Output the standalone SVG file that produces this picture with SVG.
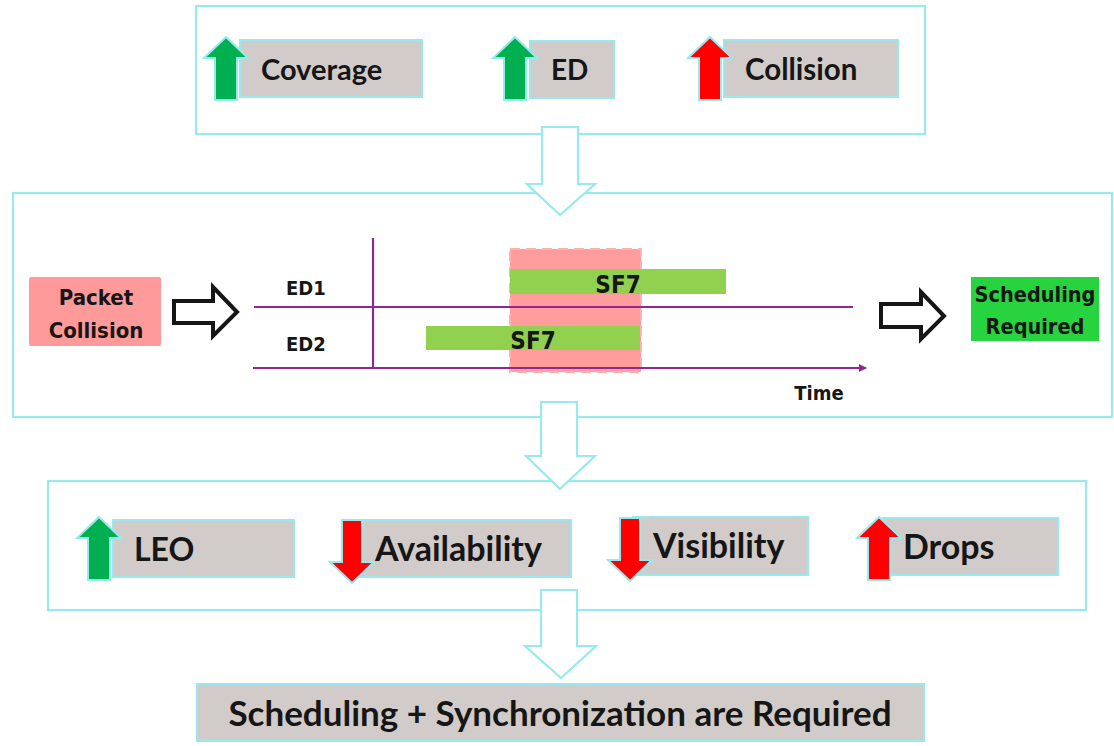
<svg xmlns="http://www.w3.org/2000/svg" width="1114" height="746" viewBox="0 0 1114 746">
<defs>
<style>
.frame{fill:#fff;stroke:#98e9ef;stroke-width:2.2}
.lbl{fill:#d1ccca;stroke:#98e9ef;stroke-width:2}
.t{font-family:Lato,"Open Sans",sans-serif;font-weight:bold;fill:#161616}
.c{font-family:"DejaVu Sans Condensed","DejaVu Sans",sans-serif;font-weight:bold;fill:#161616;font-stretch:condensed}
.up-g{fill:#00b050;stroke:#98e9ef;stroke-width:2}
.up-r{fill:#ff0000;stroke:#98e9ef;stroke-width:2}
.flow{fill:#fff;stroke:#98e9ef;stroke-width:2.2}
.blk{fill:#fff;stroke:#161616;stroke-width:4}
.pl{stroke:#92278f;stroke-width:2.2;fill:none}
.bar{fill:#92d050}
</style>
<marker id="ah" markerWidth="8" markerHeight="8" refX="7" refY="4" orient="auto" markerUnits="userSpaceOnUse" viewBox="0 0 8 8">
<path d="M0,0 L8,4 L0,8 z" fill="#92278f"/>
</marker>
<path id="upArrow" d="M0,0 L22,21 L11,21 L11,63 L-11,63 L-11,21 L-22,21 z"/>
<path id="downArrow" d="M0,0 L22,-21 L10,-21 L10,-63 L-10,-63 L-10,-21 L-22,-21 z"/>
</defs>

<!-- frames -->
<g id="frame-top"><rect class="frame" x="196" y="6" width="729" height="128"/></g>
<g id="frame-middle"><rect class="frame" x="13" y="193" width="1099" height="224"/></g>
<g id="frame-bottom"><rect class="frame" x="48" y="481" width="1038" height="129"/></g>

<!-- top row -->
<g id="coverage">
<rect class="lbl" x="240" y="40" width="182" height="57"/>
<use href="#upArrow" class="up-g" x="226" y="37"/>
<text class="t" x="261" y="80" font-size="29">Coverage</text>
</g>
<g id="ed">
<rect class="lbl" x="530" y="41" width="84" height="57"/>
<use href="#upArrow" class="up-g" x="515" y="37"/>
<text class="t" x="551" y="80" font-size="28">ED</text>
</g>
<g id="collision">
<rect class="lbl" x="724" y="40" width="174" height="57"/>
<use href="#upArrow" class="up-r" x="710" y="37"/>
<text class="t" x="745" y="80" font-size="29.5">Collision</text>
</g>

<!-- middle: timing chart -->
<g id="packet-collision">
<rect x="29" y="277" width="132" height="69" rx="2" fill="#ff9a9a"/>
<text class="c" x="96" y="305" font-size="22" text-anchor="middle">Packet</text>
<text class="c" x="96" y="338" font-size="22" text-anchor="middle">Collision</text>
</g>
<g id="chart">
<rect x="510" y="249" width="131" height="123" fill="#ff9c9c" stroke="#ffb0b0" stroke-width="2" stroke-dasharray="10 6"/>
<rect class="bar" x="510" y="269" width="216" height="25"/>
<rect class="bar" x="426" y="326" width="214" height="24"/>
<line class="pl" x1="373" y1="238" x2="373" y2="367"/>
<line class="pl" x1="254" y1="307" x2="853" y2="307"/>
<line class="pl" x1="253" y1="368" x2="866" y2="368" marker-end="url(#ah)"/>
<text class="c" x="286" y="295" font-size="20">ED1</text>
<text class="c" x="286" y="351" font-size="20">ED2</text>
<text class="c" x="618" y="293" font-size="24" text-anchor="middle">SF7</text>
<text class="c" x="533" y="349" font-size="24" text-anchor="middle">SF7</text>
<text class="c" x="819" y="400" font-size="20" text-anchor="middle">Time</text>
</g>
<g id="scheduling-required">
<rect x="971" y="277" width="128" height="64" fill="#27d33f"/>
<text class="c" x="1035" y="302" font-size="21.5" text-anchor="middle">Scheduling</text>
<text class="c" x="1035" y="334" font-size="21.5" text-anchor="middle">Required</text>
</g>

<!-- bottom row -->
<g id="leo">
<rect class="lbl" x="113" y="520" width="181" height="57"/>
<use href="#upArrow" class="up-g" x="99" y="517"/>
<text class="t" x="134" y="561" font-size="32">LEO</text>
</g>
<g id="availability">
<rect class="lbl" x="354" y="520" width="217" height="57"/>
<use href="#downArrow" class="up-r" x="352" y="583"/>
<text class="t" x="375" y="561" font-size="34">Availability</text>
</g>
<g id="visibility">
<rect class="lbl" x="633" y="517" width="175" height="58"/>
<use href="#downArrow" class="up-r" x="630" y="581"/>
<text class="t" x="653" y="558" font-size="34">Visibility</text>
</g>
<g id="drops">
<rect class="lbl" x="883" y="518" width="175" height="57"/>
<use href="#upArrow" class="up-r" x="879" y="517"/>
<text class="t" x="903" y="559" font-size="34">Drops</text>
</g>

<g id="final">
<rect class="lbl" x="197" y="684" width="727" height="57"/>
<text class="t" x="560" y="726" font-size="35" text-anchor="middle">Scheduling + Synchronization are Required</text>
</g>

<!-- connectors -->
<g id="connectors">
<path class="flow" d="M542,127 L578,127 L578,184 L595,184 L560,215 L527,184 L542,184 z"/>
<path class="flow" d="M541,402 L577,402 L577,456 L595,456 L560,489 L526,456 L541,456 z"/>
<path class="flow" d="M541,590 L577,590 L577,646 L596,646 L561,678 L525,646 L541,646 z"/>
<path class="blk" d="M174,301 L213,301 L213,287 L237,312 L213,336 L213,323 L174,323 z"/>
<path class="blk" d="M881,304 L921,304 L921,292 L944,316 L921,339 L921,327 L881,327 z"/>
</g>
</svg>
